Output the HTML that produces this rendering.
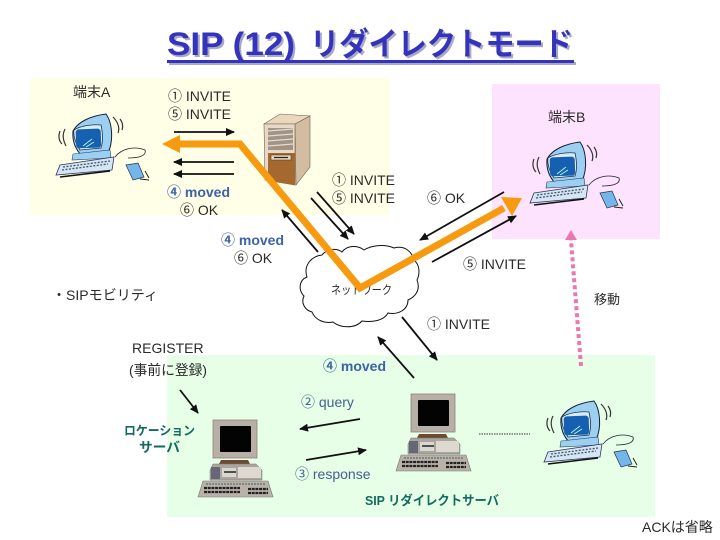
<!DOCTYPE html>
<html><head><meta charset="utf-8"><style>
html,body{margin:0;padding:0;background:#fff;width:720px;height:540px;overflow:hidden}
svg{display:block}
text{font-family:"Liberation Sans","Noto Sans CJK JP",sans-serif;fill:#2a2a2a;font-size:14px}
.b{fill:#3c62a8;font-weight:bold}
.q{fill:#44608f}
.g{fill:#136a60;font-weight:bold}
</style></head><body>
<svg width="720" height="540" viewBox="0 0 720 540" xmlns="http://www.w3.org/2000/svg">
<defs>
<marker id="ah" markerWidth="9" markerHeight="8" refX="8" refY="4" orient="auto" markerUnits="userSpaceOnUse"><path d="M0 0L9 4L0 8Z" fill="#111"/></marker>
<g id="blue">
<path d="M60 131C58 136 59 141 62 144M65 129C62 135 63 140 66 146" fill="none" stroke="#333" stroke-width="1.2"/>
<path d="M113 117C118 122 120 128 118 133M120 119C123 123 123 127 122 130" fill="none" stroke="#333" stroke-width="1.2"/>
<path d="M73 131C78 122 90 116 106 114C112 122 114 140 108 153L82 156C76 150 72 142 73 131Z" fill="#9ccff2" stroke="#123" stroke-width="1"/>
<path d="M74 130C80 126 92 124 101 125C103 134 103 142 101 148L80 150C76 143 73 137 74 130Z" fill="#d8ecf8" stroke="#234" stroke-width=".8"/>
<rect x="76" y="129" width="25" height="19" rx="3" fill="#1560b0" transform="rotate(-2 88 140)"/>
<path d="M83 146L92 139M86 147L94 142" stroke="#bfe" stroke-width=".8"/>
<path d="M73 154L110 150L111 158L72 160Z" fill="#9ccff2" stroke="#246" stroke-width=".6"/>
<path d="M60 165L114 157L112 170L56 175Z" fill="#d4e6f6" stroke="#335" stroke-width=".8"/>
<path d="M63 167L110 161M62 170L108 164" stroke="#456" stroke-width="1.3" stroke-dasharray="2 1.5"/>
<path d="M60 177L110 171" stroke="#111" stroke-width="1.6"/>
<path d="M115 157C122 148 135 146 145 150C147 156 138 158 128 158" fill="none" stroke="#223" stroke-width=".8"/>
<path d="M126 165L138 163L144 177L133 180Z" fill="#74b6ea" stroke="#234" stroke-width=".7"/>
<path d="M145 171L149 178M140 179L149 180" stroke="#222" stroke-width="1"/>
</g>
<g id="gray">
<rect x="213" y="420" width="44" height="38" fill="#b8b0a6" stroke="#8c857c" stroke-width=".8"/>
<rect x="220" y="426" width="31" height="26" rx="1" fill="#030303"/>
<path d="M221 460H248L250 464H219Z" fill="#6e4a32"/>
<path d="M213 464H256L262 470V480H210V470Z" fill="#aaa69e" stroke="#777" stroke-width=".5"/>
<rect x="211" y="467" width="9" height="12" fill="#667"/>
<rect x="222" y="468" width="14" height="9" fill="#d8d8d0"/>
<path d="M224 472H236" stroke="#222" stroke-width="1.5"/>
<rect x="238" y="467" width="23" height="11" fill="#ddd8d0"/>
<path d="M203 481H268L273 497H198Z" fill="#b8b2a8" stroke="#777" stroke-width=".6"/>
<path d="M204 488H240M204 492H240M248 489H268M248 493H268" stroke="#222" stroke-width="2.2" stroke-dasharray="3 .7"/>
<path d="M206 484H265" stroke="#555" stroke-width="1" stroke-dasharray="2 1"/>
</g>
</defs>

<rect x="30" y="78" width="360" height="137" fill="#fffee6"/>
<rect x="492" y="84" width="168" height="155" fill="#fde3fd"/>
<rect x="167" y="355" width="488" height="162" fill="#e6ffe6"/>

<!-- Title -->
<g font-weight="bold">
<text x="169" y="57" style="font-size:32px;fill:#a8a8c8" textLength="128" lengthAdjust="spacingAndGlyphs">SIP (12)</text>
<text x="312" y="57" style="font-size:32px;fill:#a8a8c8" textLength="263" lengthAdjust="spacingAndGlyphs">リダイレクトモード</text>
<rect x="169" y="62" width="407" height="3" fill="#a8a8c8"/>
<text x="167" y="55" style="font-size:32px;fill:#3333bb" textLength="128" lengthAdjust="spacingAndGlyphs">SIP (12)</text>
<text x="310" y="55" style="font-size:32px;fill:#3333bb" textLength="263" lengthAdjust="spacingAndGlyphs">リダイレクトモード</text>
<rect x="167" y="60" width="407" height="3" fill="#3333bb"/>
</g>

<!-- Server -->
<path d="M264 124L280 114L310 116L295 124Z" fill="#ecd6bc" stroke="#665" stroke-width=".6"/>
<path d="M295 124L310 116V167L296 185Z" fill="#d4bca0" stroke="#665" stroke-width=".6"/>
<path d="M264 124H295V185L265 180Z" fill="#e9d8c4" stroke="#665" stroke-width=".6"/>
<path d="M268 128H293V150H268Z" fill="#a09488"/>
<path d="M268 131L293 129M268 136L293 134M268 141L293 139M268 146L293 144" stroke="#e6dccc" stroke-width="1.2"/>
<path d="M268 153H295V185L268 181Z" fill="#a5682f"/>
<rect x="271" y="155" width="20" height="5" fill="#e4d4ba" stroke="#333" stroke-width=".5"/>
<path d="M274 157.500H288" stroke="#222" stroke-width="1.2"/>

<!-- PCs -->
<use href="#blue"/>
<use href="#blue" transform="translate(474,28)"/>
<use href="#blue" transform="translate(488,287)"/>
<use href="#gray"/>
<use href="#gray" transform="translate(198,-26)"/>

<!-- Cloud -->
<path d="M322 255C326 250 335 247 342 252C347 245 358 245 364 250C372 245 385 244 394 248C405 245 412 252 414 260C420 265 420 274 417 280C421 290 415 297 408 300C408 310 398 315 388 313C383 322 370 322 362 321C355 329 340 328 333 322C325 324 315 320 312 312C304 310 301 302 304 296C298 290 299 280 307 277C303 265 312 256 322 255Z" fill="#fff" stroke="#111" stroke-width="1"/>
<text x="331" y="294" style="font-size:12px" textLength="61" lengthAdjust="spacingAndGlyphs">ネットワーク</text>

<!-- Orange route -->
<path d="M178 144H240L360 288L504 208" fill="none" stroke="#f79a10" stroke-width="7" stroke-linejoin="miter"/>
<path d="M162 144L180 135V153Z" fill="#f79a10"/>
<path d="M522 198L501 197L512 216Z" fill="#f79a10"/>

<!-- Black arrows -->
<g stroke="#111" stroke-width="1.8" fill="none" marker-end="url(#ah)">
<path d="M174 132H234"/>
<path d="M234 162H174"/>
<path d="M234 174H174"/>
<path d="M317 192L354 234"/>
<path d="M311 198L348 239"/>
<path d="M318 252L282 210"/>
<path d="M504 192L420 240"/>
<path d="M432 262L516 216"/>
<path d="M402 317L437 360"/>
<path d="M414 378L378 337"/>
<path d="M180 390L198 413"/>
<path d="M360 419L300 429"/>
<path d="M306 460L366 450"/>
</g>
<path d="M479 434H530" stroke="#333" stroke-width="1" stroke-dasharray="1.500 1"/>
<path d="M581 366L571 240" stroke="#e878b0" stroke-width="4" stroke-dasharray="4 3" fill="none"/>
<path d="M571 230L577 240H565Z" fill="#e878b0"/>

<!-- Labels -->
<text x="73" y="97">端末A</text>
<text x="548" y="122">端末B</text>
<text x="168" y="101">① INVITE</text>
<text x="168" y="119">⑤ INVITE</text>
<text x="167" y="197" class="b">④ moved</text>
<text x="180" y="215">⑥ OK</text>
<text x="332" y="185">① INVITE</text>
<text x="332" y="203">⑤ INVITE</text>
<text x="427" y="203">⑥ OK</text>
<text x="221" y="245" class="b">④ moved</text>
<text x="234" y="263">⑥ OK</text>
<text x="463" y="269">⑤ INVITE</text>
<text x="52" y="300" textLength="106" lengthAdjust="spacingAndGlyphs">・SIPモビリティ</text>
<text x="594" y="304" style="font-size:13px">移動</text>
<text x="427" y="329">① INVITE</text>
<text x="132" y="353">REGISTER</text>
<text x="129" y="375" textLength="78" lengthAdjust="spacingAndGlyphs">(事前に登録)</text>
<text x="323" y="371" class="b">④ moved</text>
<text x="301" y="407" class="q">② query</text>
<text x="295" y="479" class="q">③ response</text>
<text x="124" y="435" class="g" style="font-size:12.500px" textLength="71" lengthAdjust="spacingAndGlyphs">ロケーション</text>
<text x="139" y="452" class="g" style="font-size:13.500px" textLength="41" lengthAdjust="spacingAndGlyphs">サーバ</text>
<text x="365" y="505" class="g" style="font-size:13px" textLength="134" lengthAdjust="spacingAndGlyphs">SIP リダイレクトサーバ</text>
<text x="642" y="532">ACKは省略</text>
</svg>
</body></html>
